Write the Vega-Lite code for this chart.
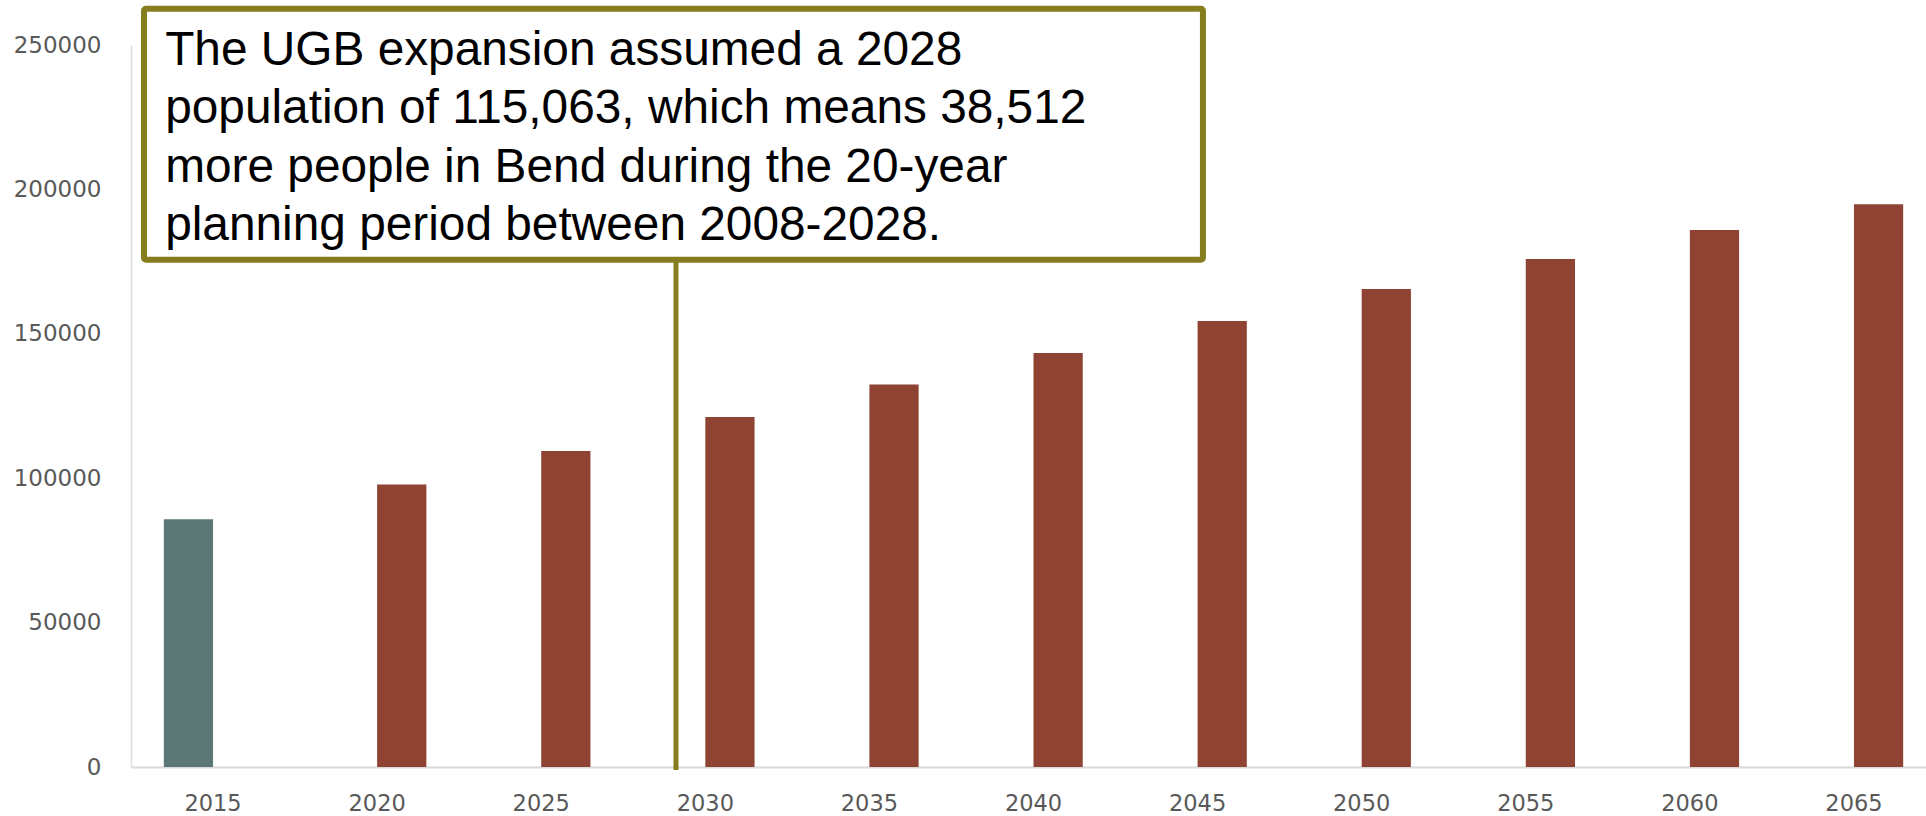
{
  "$schema": "https://vega.github.io/schema/vega-lite/v6.json",
  "width": 1795,
  "height": 722,
  "autosize": {"type": "none"},
  "padding": {"left": 131, "top": 45, "right": 0, "bottom": 49},
  "background": "white",
  "config": {"view": {"stroke": null}},
  "datasets": {
    "pop": [
      {"year": "2015", "series": "Actual", "population": 85770},
      {"year": "2020", "series": "Projected", "population": 97780},
      {"year": "2025", "series": "Projected", "population": 109420},
      {"year": "2030", "series": "Projected", "population": 121190},
      {"year": "2035", "series": "Projected", "population": 132410},
      {"year": "2040", "series": "Projected", "population": 143350},
      {"year": "2045", "series": "Projected", "population": 154430},
      {"year": "2050", "series": "Projected", "population": 165510},
      {"year": "2055", "series": "Projected", "population": 175900},
      {"year": "2060", "series": "Projected", "population": 185940},
      {"year": "2065", "series": "Projected", "population": 194870}
    ],
    "note": [
      {"x1": 2012.896, "x2": 2045.163, "y1": 262570, "y2": 175660, "rx": 2029.106, "ry1": 175660, "ry2": -1040, "tx": 2013.54, "ty": 243080,
       "label": "The UGB expansion assumed a 2028\npopulation of 115,063, which means 38,512\nmore people in Bend during the 20-year\nplanning period between 2008-2028."}
    ]
  },
  "resolve": {"scale": {"x": "independent"}},
  "layer": [
    {
      "data": {"name": "pop"},
      "mark": {"type": "bar"},
      "encoding": {
        "x": {
          "field": "year", "type": "nominal", "title": null,
          "scale": {"range": [0, 1805], "paddingInner": 0.4, "paddingOuter": 0.2},
          "axis": {
            "labelAngle": 0, "ticks": false, "labelPadding": 36, "labelBaseline": "middle",
            "labelFont": "DejaVu Sans", "labelFontSize": 22.5, "labelColor": "#595959",
            "domainColor": "#D9D9D9", "domainWidth": 2, "grid": false
          }
        },
        "xOffset": {"field": "series", "type": "nominal", "scale": {"paddingInner": 0, "paddingOuter": 0}},
        "y": {
          "field": "population", "type": "quantitative", "title": null,
          "scale": {"domain": [0, 250000], "nice": false},
          "axis": {
            "values": [0, 50000, 100000, 150000, 200000, 250000], "format": "d",
            "ticks": false, "labelPadding": 30, "grid": false,
            "labelFont": "DejaVu Sans", "labelFontSize": 23, "labelColor": "#595959",
            "domainColor": "#DDDDDD", "domainWidth": 1.5
          }
        },
        "color": {
          "field": "series", "type": "nominal", "legend": null,
          "scale": {"domain": ["Actual", "Projected"], "range": ["#5B7877", "#8E4333"]}
        }
      }
    },
    {
      "data": {"name": "note"},
      "mark": {"type": "rule", "color": "#857D1E", "strokeWidth": 5},
      "encoding": {
        "x": {"field": "rx", "type": "quantitative", "axis": null, "scale": {"domain": [2012.5, 2067.5], "range": [0, 1805], "nice": false, "zero": false}},
        "y": {"field": "ry1", "type": "quantitative", "title": null, "scale": {"domain": [0, 250000], "nice": false}},
        "y2": {"field": "ry2"}
      }
    },
    {
      "data": {"name": "note"},
      "mark": {"type": "rect", "fill": "white", "stroke": "#857D1E", "strokeWidth": 6, "cornerRadius": 2},
      "encoding": {
        "x": {"field": "x1", "type": "quantitative", "axis": null, "scale": {"domain": [2012.5, 2067.5], "range": [0, 1805], "nice": false, "zero": false}},
        "x2": {"field": "x2"},
        "y": {"field": "y1", "type": "quantitative", "title": null, "scale": {"domain": [0, 250000], "nice": false}},
        "y2": {"field": "y2"}
      }
    },
    {
      "data": {"name": "note"},
      "mark": {"type": "text", "font": "Liberation Sans", "fontSize": 47.8, "color": "#000000", "align": "left", "baseline": "alphabetic", "lineBreak": "\n", "lineHeight": 58.3},
      "encoding": {
        "x": {"field": "tx", "type": "quantitative", "axis": null, "scale": {"domain": [2012.5, 2067.5], "range": [0, 1805], "nice": false, "zero": false}},
        "y": {"field": "ty", "type": "quantitative", "title": null, "scale": {"domain": [0, 250000], "nice": false}},
        "text": {"field": "label", "type": "nominal"}
      }
    }
  ]
}
